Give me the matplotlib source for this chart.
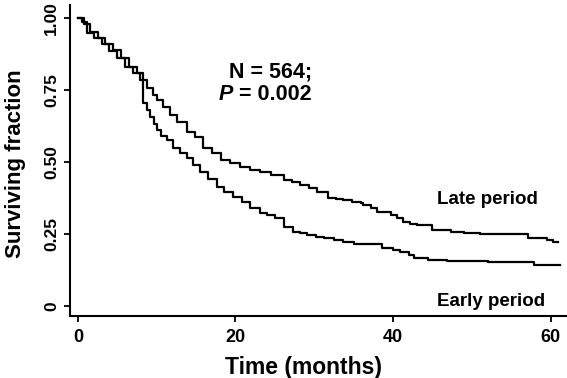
import numpy as np
import matplotlib
matplotlib.use("Agg")
import matplotlib.pyplot as plt

plt.rcParams['font.family'] = ['Liberation Sans', 'DejaVu Sans']
plt.rcParams['font.weight'] = 'bold'

# Kaplan-Meier step data (months, surviving fraction)
late_t = [0, 0.8, 1.5, 2.5, 3.5, 4.5, 5.5, 6.5, 7.5, 8.3, 8.8, 9.5, 10, 10.8,
          11.7, 12.6, 13.8, 14.8, 15.9, 17, 18.1, 19.3, 20.6, 21.9, 23.1, 24.5,
          26.1, 27.2, 28.2, 29.3, 30.4, 31.7, 32.7, 33.7, 34.8, 35.9, 36.2,
          37.2, 38, 39.7, 40.5, 41.3, 42.2, 43.1, 45, 47.3, 49, 51.1, 57.1,
          59.6, 60.3, 61]
late_s = [1.0, 0.98, 0.95, 0.93, 0.91, 0.89, 0.86, 0.83, 0.81, 0.785, 0.757,
          0.733, 0.715, 0.691, 0.663, 0.639, 0.604, 0.585, 0.549, 0.53, 0.507,
          0.495, 0.483, 0.472, 0.465, 0.455, 0.4375, 0.43, 0.42, 0.41, 0.396,
          0.375, 0.37, 0.368, 0.362, 0.358, 0.35, 0.34, 0.326, 0.316, 0.305,
          0.29, 0.285, 0.281, 0.264, 0.257, 0.253, 0.25, 0.236, 0.229, 0.222,
          0.222]

early_t = [0, 0.5, 1.1, 2, 3, 4, 5, 6, 7, 7.9, 8.3, 8.8, 9.2, 9.6, 10, 10.6,
           11.3, 12.1, 12.9, 13.8, 14.6, 15.5, 16.5, 17.6, 18.6, 19.7, 20.8,
           21.9, 23.1, 24, 25, 26.1, 27.3, 28.2, 29.1, 30.2, 31.2, 32.5, 33.7,
           35, 38.6, 40, 40.9, 42, 42.6, 44.5, 46.9, 52, 57.9, 61.2]
early_s = [1.0, 0.985, 0.947, 0.93, 0.91, 0.885, 0.86, 0.83, 0.81, 0.785,
           0.705, 0.68, 0.656, 0.63, 0.611, 0.59, 0.576, 0.549, 0.53, 0.512,
           0.49, 0.466, 0.44, 0.414, 0.395, 0.378, 0.36, 0.34, 0.323, 0.315,
           0.306, 0.274, 0.257, 0.252, 0.247, 0.24, 0.236, 0.228, 0.222, 0.215,
           0.201, 0.194, 0.188, 0.178, 0.167, 0.16, 0.156, 0.153, 0.142, 0.142]

x_ticks = [0, 20, 40, 60]
y_ticks = [0, 0.25, 0.5, 0.75, 1.0]
y_tick_labels = ['0', '0.25', '0.50', '0.75', '1.00']

fig = plt.figure(figsize=(5.67, 3.78), dpi=100)
ax = fig.add_axes([0.1235, 0.164, 0.874, 0.823])

ax.plot(late_t, late_s, drawstyle='steps-post', color='black', lw=1.6)
ax.plot(early_t, early_s, drawstyle='steps-post', color='black', lw=1.6)

ax.set_xlim(-1.0, 61.9)
ax.set_ylim(-0.035, 1.045)

for side in ['top', 'right']:
    ax.spines[side].set_visible(False)
for side in ['left', 'bottom']:
    ax.spines[side].set_linewidth(1.5)

ax.set_xticks(x_ticks)
ax.set_xticklabels([str(v) for v in x_ticks], fontsize=13, fontweight='bold')
ax.set_yticks(y_ticks)
ax.set_yticklabels(y_tick_labels, fontsize=12.5, fontweight='bold',
                   rotation=90, va='center')
ax.tick_params(axis='both', length=4, width=1.3, color='black')
ax.tick_params(axis='y', pad=4)
ax.tick_params(axis='x', pad=5)

ax.set_xlabel('Time (months)', fontsize=16.5, fontweight='bold')
ax.set_ylabel('Surviving fraction', fontsize=16, fontweight='bold')
ax.xaxis.set_label_coords(0.472, -0.13)
ax.yaxis.label.set_va('center')
ax.yaxis.set_label_coords(-0.11, 0.49)

ax.text(24.4, 0.8125, 'N = 564;', fontsize=15.5, fontweight='bold',
        ha='center', va='center')
ax.text(19.7, 0.733, 'P', fontsize=15.5, fontweight='bold', style='italic',
        ha='right', va='center')
ax.text(19.7, 0.733, ' = 0.002', fontsize=15.5, fontweight='bold',
        ha='left', va='center')

ax.text(52.0, 0.368, 'Late period', fontsize=13.5, fontweight='bold',
        ha='center', va='center')
ax.text(52.45, 0.014, 'Early period', fontsize=13.5, fontweight='bold',
        ha='center', va='center')

fig.savefig('out.png', dpi=100)
